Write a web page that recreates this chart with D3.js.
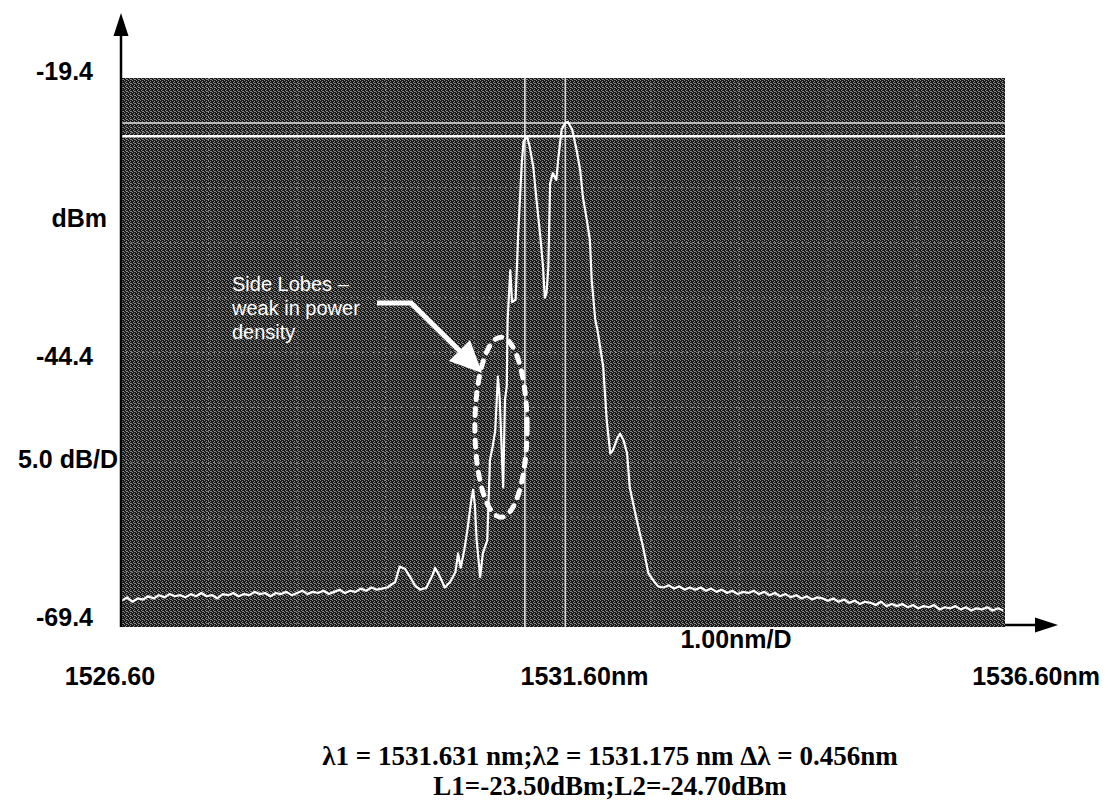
<!DOCTYPE html>
<html>
<head>
<meta charset="utf-8">
<script src="https://cdn.jsdelivr.net/npm/d3@7"></script>
<style>
  html, body { margin: 0; padding: 0; background: #ffffff; }
  svg { display: block; }
</style>
</head>
<body>
<svg id="chart" width="1112" height="802"></svg>
<script>
// ---------------- DATA ----------------
const wavelengthDomain = [1526.6, 1536.6];   // nm
const powerDomain = [-69.4, -19.4];          // dBm
const yTickLabels = ["-19.4", "-44.4", "-69.4"];
const yTickValues = [-19.4, -44.4, -69.4];
const xTickLabels = ["1526.60", "1531.60nm", "1536.60nm"];
const xTickValues = [1526.6, 1531.6, 1536.6];
const yUnitLabels = ["dBm", "5.0 dB/D"];
const xUnitLabel = "1.00nm/D";
const markerWavelengths = [1531.631, 1531.175];  // λ1, λ2
const markerLevels = [-23.50, -24.70];           // L1, L2
const annotationLines = ["Side Lobes \u2013", "weak in power", "density"];
const footerLines = [
  "\u03bb1 = 1531.631 nm;\u03bb2 = 1531.175 nm  \u0394\u03bb = 0.456nm",
  "L1=-23.50dBm;L2=-24.70dBm"
];

// Spectrum trace (wavelength nm, power dBm)
const traceWavelength = [
  1526.62,1526.68,1526.74,1526.80,1526.86,1526.92,1526.98,1527.04,1527.10,1527.16,
  1527.22,1527.28,1527.34,1527.40,1527.46,1527.52,1527.58,1527.64,1527.70,1527.76,
  1527.82,1527.88,1527.94,1528.00,1528.06,1528.12,1528.18,1528.24,1528.30,1528.36,
  1528.42,1528.48,1528.54,1528.60,1528.66,1528.72,1528.78,1528.84,1528.90,1528.96,
  1529.02,1529.08,1529.14,1529.20,1529.26,1529.32,1529.38,1529.44,1529.50,1529.56,
  1529.62,1529.71,1529.76,1529.82,1529.88,1529.93,1529.99,1530.06,1530.13,1530.16,
  1530.22,1530.27,1530.33,1530.39,1530.42,1530.45,1530.49,1530.53,1530.57,1530.59,
  1530.61,1530.63,1530.67,1530.70,1530.75,1530.78,1530.81,1530.84,1530.87,1530.89,
  1530.92,1530.93,1530.95,1530.97,1530.98,1531.01,1531.03,1531.07,1531.10,1531.14,
  1531.16,1531.20,1531.23,1531.27,1531.31,1531.35,1531.38,1531.40,1531.42,1531.44,
  1531.46,1531.49,1531.53,1531.55,1531.59,1531.63,1531.66,1531.71,1531.76,1531.80,
  1531.83,1531.88,1531.91,1531.93,1531.97,1532.00,1532.06,1532.10,1532.14,1532.17,
  1532.22,1532.25,1532.29,1532.33,1532.36,1532.44,1532.51,1532.57,1532.62,1532.68,
  1532.74,1532.80,1532.86,1532.92,1532.98,1533.04,1533.10,1533.16,1533.22,1533.28,
  1533.34,1533.40,1533.46,1533.52,1533.58,1533.64,1533.70,1533.76,1533.82,1533.88,
  1533.94,1534.00,1534.06,1534.12,1534.18,1534.24,1534.30,1534.36,1534.42,1534.48,
  1534.54,1534.60,1534.66,1534.72,1534.78,1534.84,1534.90,1534.96,1535.02,1535.08,
  1535.14,1535.20,1535.26,1535.32,1535.38,1535.44,1535.50,1535.56,1535.62,1535.68,
  1535.74,1535.80,1535.86,1535.92,1535.98,1536.04,1536.10,1536.16,1536.22,1536.28,
  1536.34,1536.40,1536.46,1536.52,1536.58
];
const tracePower = [
  -67.0,-66.7,-67.1,-66.8,-66.9,-66.6,-66.8,-66.5,-66.7,-66.4,
  -66.6,-66.5,-66.7,-66.4,-66.6,-66.3,-66.6,-66.5,-66.8,-66.4,
  -66.5,-66.3,-66.6,-66.4,-66.5,-66.2,-66.4,-66.3,-66.6,-66.3,
  -66.4,-66.2,-66.5,-66.3,-66.1,-66.4,-66.2,-66.3,-66.1,-66.4,
  -66.2,-66.0,-66.3,-66.1,-66.2,-65.9,-66.1,-65.8,-66.0,-65.9,
  -65.8,-65.3,-63.9,-64.1,-64.85,-65.6,-66.0,-65.85,-64.7,-64.0,
  -64.9,-65.8,-65.3,-64.4,-62.7,-64.0,-62.4,-60.3,-57.8,-56.9,
  -58.3,-61.5,-64.85,-62.7,-61.5,-54.2,-53.0,-51.5,-46.6,-48.5,
  -54.8,-56.7,-48.7,-47.5,-41.4,-36.9,-39.8,-39.6,-33.5,-27.1,
  -25.2,-24.7,-25.7,-27.5,-30.8,-33.9,-36.6,-39.4,-39.0,-36.6,
  -29.0,-28.05,-28.7,-26.9,-24.1,-23.5,-23.4,-24.1,-26.0,-27.8,
  -30.2,-32.6,-34.2,-37.8,-41.4,-42.6,-45.7,-50.6,-53.6,-53.3,
  -52.2,-51.8,-52.4,-53.6,-56.7,-59.7,-62.1,-64.5,-65.1,-65.7,
  -65.8,-65.6,-65.9,-65.7,-66.0,-65.8,-66.0,-65.8,-66.1,-65.9,
  -66.2,-66.0,-66.3,-66.1,-66.4,-66.2,-66.3,-66.1,-66.4,-66.2,
  -66.5,-66.3,-66.6,-66.4,-66.7,-66.5,-66.8,-66.6,-66.9,-66.7,
  -66.8,-67.0,-66.8,-67.1,-66.9,-67.2,-67.0,-67.3,-67.1,-67.2,
  -67.4,-67.1,-67.5,-67.3,-67.5,-67.3,-67.6,-67.4,-67.7,-67.5,
  -67.6,-67.4,-67.8,-67.6,-67.7,-67.5,-67.8,-67.6,-67.9,-67.7,
  -67.8,-67.6,-67.9,-67.7,-67.9
];

// ---------------- LAYOUT ----------------
const svg = d3.select("#chart");
const plot = { left: 120, right: 1005, top: 78, bottom: 627 };

const x = d3.scaleLinear().domain(wavelengthDomain).range([plot.left, plot.right]);
const y = d3.scaleLinear().domain(powerDomain).range([plot.bottom, plot.top]);

const defs = svg.append("defs");
const pat = defs.append("pattern")
  .attr("id", "halftone").attr("patternUnits", "userSpaceOnUse")
  .attr("width", 4).attr("height", 4);
pat.append("rect").attr("width", 4).attr("height", 4).attr("fill", "#1a1a1a");
[[0,0],[2,1],[1,2],[3,3],[2,3]].forEach(([px,py]) => {
  pat.append("rect").attr("x", px).attr("y", py).attr("width", 1).attr("height", 1).attr("fill", "#8a8a8a");
});

svg.append("rect")
  .attr("x", plot.left).attr("y", plot.top)
  .attr("width", plot.right - plot.left).attr("height", plot.bottom - plot.top)
  .attr("fill", "url(#halftone)");

// Dotted grid (10 x 10 divisions)
const gridX = d3.range(1, 10).map(i => wavelengthDomain[0] + i * (wavelengthDomain[1] - wavelengthDomain[0]) / 10);
const gridY = d3.range(1, 10).map(i => powerDomain[0] + i * (powerDomain[1] - powerDomain[0]) / 10);
const grid = svg.append("g").attr("stroke", "#b8b8b8").attr("stroke-width", 1)
  .attr("stroke-dasharray", "1.5,4").attr("opacity", 0.7);
grid.selectAll("line.gx").data(gridX).join("line")
  .attr("x1", d => x(d)).attr("x2", d => x(d)).attr("y1", plot.top).attr("y2", plot.bottom);
grid.selectAll("line.gy").data(gridY).join("line")
  .attr("y1", d => y(d)).attr("y2", d => y(d)).attr("x1", plot.left).attr("x2", plot.right);

// Marker lines
svg.append("g").selectAll("line").data(markerWavelengths).join("line")
  .attr("x1", d => x(d)).attr("x2", d => x(d)).attr("y1", plot.top).attr("y2", plot.bottom)
  .attr("stroke", (d, i) => i === 0 ? "#d8d8d8" : "#f2f2f2").attr("stroke-width", 1.5);
svg.append("g").selectAll("line").data(markerLevels).join("line")
  .attr("y1", d => y(d)).attr("y2", d => y(d)).attr("x1", plot.left).attr("x2", plot.right)
  .attr("stroke", (d, i) => i === 0 ? "#e0e0e0" : "#ffffff").attr("stroke-width", (d, i) => i === 0 ? 1.5 : 2.5);

// Spectrum trace
const traceData = traceWavelength.map((w, i) => [w, tracePower[i]]);
svg.append("path")
  .datum(traceData)
  .attr("fill", "none").attr("stroke", "#ffffff").attr("stroke-width", 2.2)
  .attr("stroke-linejoin", "round")
  .attr("d", d3.line().x(d => x(d[0])).y(d => y(d[1])));

// Annotation: dashed ellipse around side lobes
const ellipseCenter = [1530.905, -51.2];
svg.append("ellipse")
  .attr("cx", x(ellipseCenter[0])).attr("cy", y(ellipseCenter[1]))
  .attr("rx", x(1526.6 + 0.295) - x(1526.6)).attr("ry", y(-69.4) - y(-69.4 + 8.2))
  .attr("fill", "none").attr("stroke", "#ffffff").attr("stroke-width", 5)
  .attr("stroke-dasharray", "7,9").attr("stroke-linecap", "round");

// Annotation arrow
const arrowPts = [[377, 303], [411, 303], [466, 357]];
svg.append("path")
  .attr("d", d3.line()(arrowPts))
  .attr("fill", "none").attr("stroke", "#ffffff").attr("stroke-width", 5)
  .attr("stroke-linejoin", "miter");
svg.append("path")
  .attr("d", "M482,373 L449,361 L470,340 Z")
  .attr("fill", "#ffffff");

// Annotation text
svg.append("g").selectAll("text").data(annotationLines).join("text")
  .attr("x", 232).attr("y", (d, i) => 291 + i * 24)
  .attr("fill", "#ffffff")
  .attr("font-family", "Liberation Sans, Arial, sans-serif")
  .attr("font-size", 20)
  .text(d => d);

// Axes with arrows
svg.append("line").attr("x1", 121).attr("x2", 121).attr("y1", 30).attr("y2", plot.bottom)
  .attr("stroke", "#000").attr("stroke-width", 2.5);
svg.append("path").attr("d", "M121,13 L113.5,36 L128.5,36 Z").attr("fill", "#000");
svg.append("line").attr("x1", plot.right).attr("x2", 1040).attr("y1", 625).attr("y2", 625)
  .attr("stroke", "#000").attr("stroke-width", 2.5);
svg.append("path").attr("d", "M1058,625 L1035,617.5 L1035,632.5 Z").attr("fill", "#000");

// Y tick labels
const yLabelOffsets = [2, 12, -1];
svg.append("g").selectAll("text").data(yTickValues).join("text")
  .attr("x", 93).attr("y", (d, i) => y(d) + yLabelOffsets[i])
  .attr("text-anchor", "end")
  .attr("font-family", "Liberation Sans, Arial, sans-serif")
  .attr("font-weight", "bold").attr("font-size", 25).attr("fill", "#000")
  .text((d, i) => yTickLabels[i]);

// Y unit labels
const unitStyle = sel => sel.attr("font-family", "Liberation Sans, Arial, sans-serif")
  .attr("font-weight", "bold").attr("font-size", 25).attr("fill", "#000");
svg.append("text").attr("x", 107).attr("y", 227).attr("text-anchor", "end").call(unitStyle).text(yUnitLabels[0]);
svg.append("text").attr("x", 118).attr("y", 468).attr("text-anchor", "end").call(unitStyle).text(yUnitLabels[1]);

// X tick labels
const xLabelAnchors = ["middle", "middle", "end"];
const xLabelShift = [-10, 22, 0];
svg.append("g").selectAll("text").data(xTickValues).join("text")
  .attr("x", (d, i) => i === 2 ? 1100 : x(d) + xLabelShift[i])
  .attr("y", 685)
  .attr("text-anchor", (d, i) => xLabelAnchors[i])
  .call(unitStyle)
  .text((d, i) => xTickLabels[i]);

// X unit label
svg.append("text").attr("x", 736).attr("y", 648).attr("text-anchor", "middle").call(unitStyle).text(xUnitLabel);

// Footer
svg.append("g").selectAll("text").data(footerLines).join("text")
  .attr("x", 610).attr("y", (d, i) => 765 + i * 30)
  .attr("text-anchor", "middle")
  .attr("font-family", "Liberation Serif, Times New Roman, serif")
  .attr("font-weight", "bold").attr("font-size", 27).attr("fill", "#000")
  .text(d => d);
</script>
</body>
</html>
